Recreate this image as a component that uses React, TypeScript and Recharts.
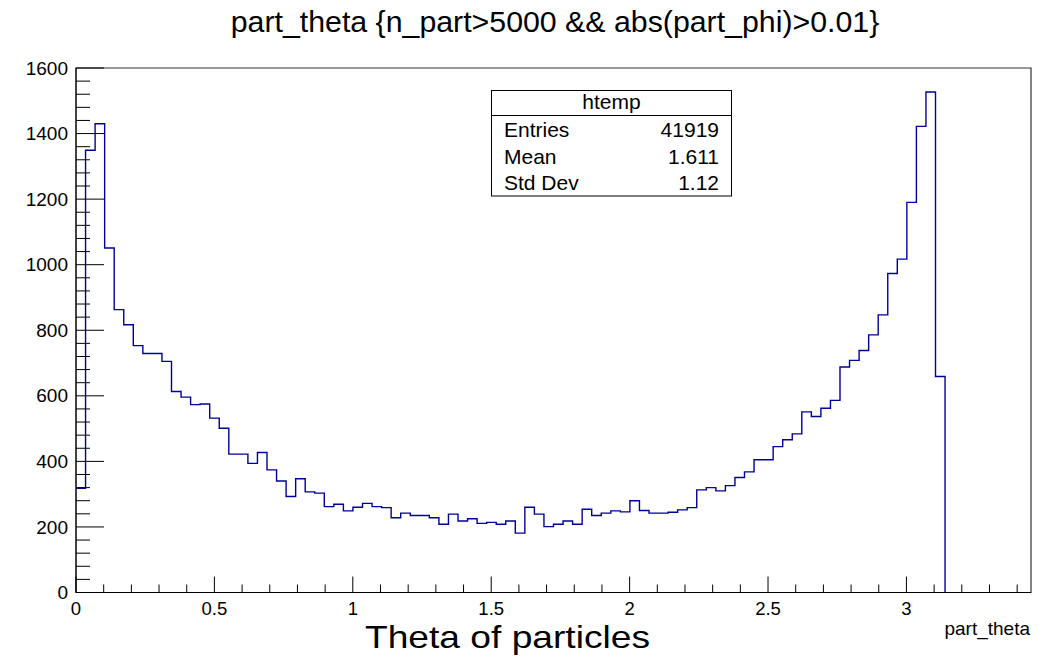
import React from "react";
import { ComposedChart, Line, XAxis, YAxis, ReferenceArea } from "recharts";

// histogram htemp: 91 filled bins of width 0.0345 starting at 0
const BIN_MIN = 0;
const BIN_WIDTH = 0.0345;
const binCounts = [
    318, 1349, 1430, 1051, 863, 817, 753, 729, 729, 705,
    613, 596, 573, 575, 532, 501, 422, 422, 394, 427,
    374, 340, 293, 347, 307, 303, 262, 269, 249, 260,
    272, 262, 259, 228, 242, 235, 235, 228, 208, 239,
    218, 225, 211, 214, 208, 218, 181, 260, 239, 201,
    208, 218, 208, 254, 235, 242, 249, 246, 280, 250,
    242, 242, 245, 252, 259, 313, 320, 310, 326, 351,
    368, 405, 405, 445, 466, 484, 551, 537, 562, 586,
    688, 708, 738, 786, 847, 973, 1017, 1190, 1422, 1527,
    659,
];

const xTicks = [
    0, 0.1, 0.2, 0.3, 0.4, 0.5, 0.6, 0.7, 0.8, 0.9,
    1, 1.1, 1.2, 1.3, 1.4, 1.5, 1.6, 1.7, 1.8, 1.9,
    2, 2.1, 2.2, 2.3, 2.4, 2.5, 2.6, 2.7, 2.8, 2.9,
    3, 3.1, 3.2, 3.3, 3.4,
];
const xLabels = [0, 0.5, 1, 1.5, 2, 2.5, 3];

const yTicks = [
    0, 40, 80, 120, 160, 200, 240, 280, 320, 360,
    400, 440, 480, 520, 560, 600, 640, 680, 720, 760,
    800, 840, 880, 920, 960, 1000, 1040, 1080, 1120, 1160,
    1200, 1240, 1280, 1320, 1360, 1400, 1440, 1480, 1520, 1560, 1600,
];
const yLabels = [0, 200, 400, 600, 800, 1000, 1200, 1400, 1600];

const statRows = [
    { label: "Entries", value: "41919" },
    { label: "Mean", value: "1.611" },
    { label: "Std Dev", value: "1.12" },
];

const FONT = '"Liberation Sans", Arial, Helvetica, sans-serif';
const LINE_COLOR = "#000099";

// step outline: one point per bin low edge, then drop to zero at the last edge
const histData = [
    ...binCounts.map((c, i) => ({ x: BIN_MIN + i * BIN_WIDTH, count: c })),
    { x: BIN_MIN + binCounts.length * BIN_WIDTH, count: 0 },
];

function XTick(props: any) {
    const { x, y, payload } = props;
    const v = payload.value;
    const major = xLabels.some((l) => Math.abs(l - v) < 1e-6);
    return (
        <g>
            <line x1={x} x2={x} y1={y} y2={y - (major ? 16 : 8)} stroke="#000" strokeWidth={1} />
            {major && (
                <text x={x} y={y + 22} textAnchor="middle" fontSize={18.5} fontFamily={FONT} fill="#000">
                    {String(v)}
                </text>
            )}
        </g>
    );
}

function YTick(props: any) {
    const { x, y, payload } = props;
    const v = payload.value;
    const major = yLabels.includes(v);
    return (
        <g>
            <line x1={x} x2={x + (major ? 28 : 14)} y1={y} y2={y} stroke="#000" strokeWidth={1} />
            {major && (
                <text x={x - 8} y={y} dy="0.35em" textAnchor="end" fontSize={19} fontFamily={FONT} fill="#000">
                    {String(v)}
                </text>
            )}
        </g>
    );
}

export default function App() {
    return (
        <div style={{ position: "absolute", left: 0, top: 0, width: 1051, height: 660, background: "#fff" }}>
            <ComposedChart
                width={1051}
                height={660}
                data={histData}
                margin={{ top: 68, right: 20, bottom: 37.5, left: 0 }}
            >
                <XAxis
                    dataKey="x"
                    type="number"
                    domain={[0, 3.45]}
                    ticks={xTicks}
                    interval={0}
                    allowDataOverflow
                    tickSize={0}
                    tickMargin={0}
                    tickLine={false}
                    axisLine={{ stroke: "#000", strokeWidth: 1 }}
                    tick={<XTick />}
                    height={30}
                />
                <YAxis
                    type="number"
                    domain={[0, 1600]}
                    ticks={yTicks}
                    interval={0}
                    allowDataOverflow
                    tickSize={0}
                    tickMargin={0}
                    tickLine={false}
                    axisLine={{ stroke: "#000", strokeWidth: 1 }}
                    tick={<YTick />}
                    width={76}
                />
                <ReferenceArea x1={0} x2={3.45} y1={0} y2={1600} fill="none" fillOpacity={0} stroke="#333" strokeWidth={1.2} />
                <Line
                    type="stepAfter"
                    dataKey="count"
                    stroke={LINE_COLOR}
                    strokeWidth={1.4}
                    dot={false}
                    activeDot={false}
                    isAnimationActive={false}
                />
            </ComposedChart>
            <svg
                width={1051}
                height={660}
                style={{ position: "absolute", left: 0, top: 0, pointerEvents: "none" }}
                fontFamily={FONT}
            >
                <text x={555} y={32} textAnchor="middle" fontSize={30.3} fill="#000">
                    {"part_theta {n_part>5000 && abs(part_phi)>0.01}"}
                </text>
                <text x={507.5} y={648} textAnchor="middle" fontSize={32} fill="#000" textLength={285} lengthAdjust="spacingAndGlyphs">
                    Theta of particles
                </text>
                <text x={1030} y={635} textAnchor="end" fontSize={19} fill="#000">
                    part_theta
                </text>
                <rect x={491.5} y={90.5} width={240} height={105.5} fill="#fff" stroke="#000" strokeWidth={1} />
                <line x1={491.5} x2={731.5} y1={115.5} y2={115.5} stroke="#000" strokeWidth={1} />
                <text x={611.5} y={109} textAnchor="middle" fontSize={21} fill="#000">
                    htemp
                </text>
                {statRows.map((r, i) => (
                    <g key={r.label}>
                        <text x={504} y={137 + i * 26.5} fontSize={21} fill="#000">
                            {r.label}
                        </text>
                        <text x={719} y={137 + i * 26.5} textAnchor="end" fontSize={21} fill="#000">
                            {r.value}
                        </text>
                    </g>
                ))}
            </svg>
        </div>
    );
}
